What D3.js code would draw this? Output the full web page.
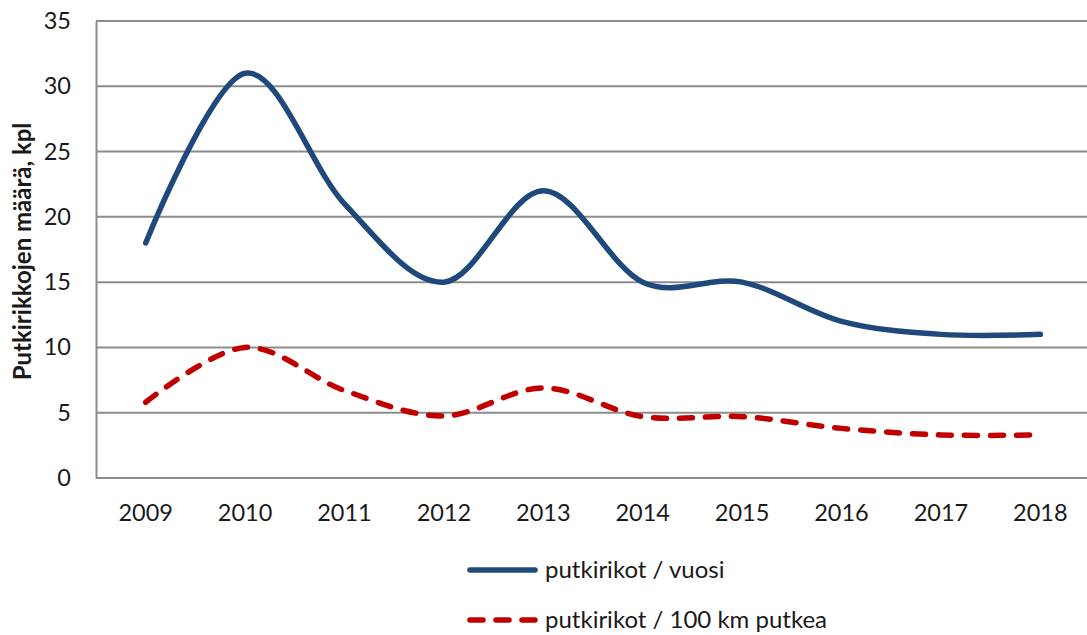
<!DOCTYPE html>
<html>
<head>
<meta charset="utf-8">
<script src="https://cdn.jsdelivr.net/npm/d3@7"></script>
<style>
  body { margin: 0; background: #fff; }
  svg { display: block; font-family: Lato, 'Open Sans', sans-serif; }
</style>
</head>
<body>
<div id="chart"></div>
<script>
// ---------------------------------- DATA ---------------------------------- //

let years = ['2009', '2010', '2011', '2012', '2013', '2014', '2015', '2016', '2017', '2018'];
let breaks_per_year = [18, 31, 21, 15, 22, 15, 15, 12, 11, 11];
let breaks_per_100km = [5.8, 10, 6.7, 4.75, 6.9, 4.7, 4.7, 3.8, 3.3, 3.3];
let y_ticks = [0, 5, 10, 15, 20, 25, 30, 35];
let series_names = ['putkirikot / vuosi', 'putkirikot / 100 km putkea'];

// ---------------------------------- SETTINGS ---------------------------------- //

let img_width = 1087;
let img_height = 635;
let plot_left = 96;
let plot_right = 1090;
let plot_top = 21;
let plot_bottom = 478;
let blue_color = '#1f497d';
let red_color = '#c00000';
let grid_color = '#8c8c8c';
let text_color = '#1a1a1a';

// ---------------------------------- SCALES ---------------------------------- //

let x = d3.scaleBand().domain(years).range([plot_left, plot_right]);
let y = d3.scaleLinear().domain([0, 35]).range([plot_bottom, plot_top]);

let svg = d3.select('#chart')
  .append('svg')
  .attr('width', img_width)
  .attr('height', img_height);

// gridlines
svg.append('g')
  .selectAll('line')
  .data(y_ticks)
  .enter()
  .append('line')
  .attr('x1', plot_left)
  .attr('x2', img_width)
  .attr('y1', d => y(d))
  .attr('y2', d => y(d))
  .attr('stroke', grid_color)
  .attr('stroke-width', 2);

// left axis
let y_axis = svg.append('g')
  .attr('transform', `translate(${plot_left},0)`)
  .call(d3.axisLeft(y).tickValues(y_ticks).tickSize(0).tickPadding(25));
y_axis.select('.domain').attr('stroke', grid_color).attr('stroke-width', 2);
y_axis.selectAll('text')
  .attr('font-family', 'Lato, sans-serif')
  .attr('font-size', 23.5)
  .attr('fill', text_color);

// bottom axis
let x_axis = svg.append('g')
  .attr('transform', `translate(0,${plot_bottom})`)
  .call(d3.axisBottom(x).tickSize(0).tickPadding(26));
x_axis.select('.domain').remove();
x_axis.selectAll('text')
  .attr('font-family', 'Lato, sans-serif')
  .attr('font-size', 23.5)
  .attr('fill', text_color);

// y title
svg.append('text')
  .attr('transform', `translate(31,${(plot_top + plot_bottom) / 2 + 2}) rotate(-90)`)
  .attr('text-anchor', 'middle')
  .attr('font-size', 24)
  .attr('font-weight', 'bold')
  .attr('fill', text_color)
  .text('Putkirikkojen määrä, kpl');

// ---------------------------------- LINES ---------------------------------- //

let line = d3.line()
  .x((d, i) => x(years[i]) + x.bandwidth() / 2)
  .y(d => y(d))
  .curve(d3.curveCardinal.tension(0));

svg.append('path')
  .datum(breaks_per_year)
  .attr('d', line)
  .attr('fill', 'none')
  .attr('stroke', blue_color)
  .attr('stroke-width', 5.5)
  .attr('stroke-linecap', 'round')
  .attr('stroke-linejoin', 'round');

svg.append('path')
  .datum(breaks_per_100km)
  .attr('d', line)
  .attr('fill', 'none')
  .attr('stroke', red_color)
  .attr('stroke-width', 5.5)
  .attr('stroke-dasharray', '13 13')
  .attr('stroke-linecap', 'round');

// ---------------------------------- LEGEND ---------------------------------- //

let legend = svg.append('g');
let legend_rows = [
  { name: series_names[0], color: blue_color, dash: null, y: 570 },
  { name: series_names[1], color: red_color, dash: '13 13', y: 620 }
];
legend_rows.forEach(r => {
  legend.append('line')
    .attr('x1', 470).attr('x2', 535)
    .attr('y1', r.y).attr('y2', r.y)
    .attr('stroke', r.color)
    .attr('stroke-width', 5.5)
    .attr('stroke-linecap', 'round')
    .attr('stroke-dasharray', r.dash);
  legend.append('text')
    .attr('x', 545)
    .attr('y', r.y)
    .attr('dy', '0.35em')
    .attr('font-size', 24)
    .attr('fill', text_color)
    .text(r.name);
});
</script>
</body>
</html>
